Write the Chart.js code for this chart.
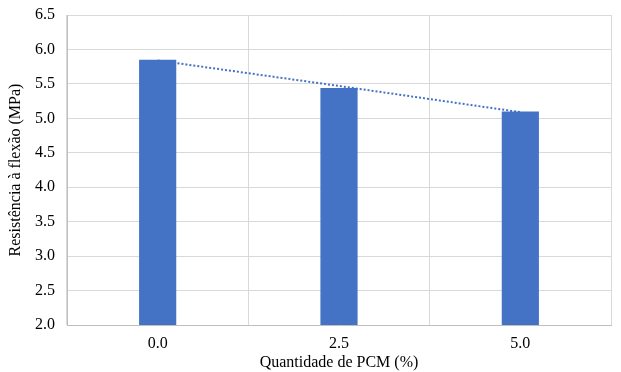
<!DOCTYPE html>
<html lang="pt">
<head>
<meta charset="UTF-8">
<title>Resistência à flexão</title>
<script src="https://cdn.jsdelivr.net/npm/chart.js"></script>
<style>
	body {padding: 0; margin: 0; background: #fff;}
	#wrap {width: 621px; height: 372px;}
</style>
</head>
<body>
<div id="wrap"><canvas id="myChart"></canvas></div>
<script>
var categories = ['0.0', '2.5', '5.0'];
var resistencia = [5.85, 5.44, 5.10];
var tendencia = [5.84, 5.47, 5.09];   // linha de tendência

var serif = "'Liberation Serif', 'Times New Roman', serif";

new Chart(document.getElementById('myChart'), {
	type: 'bar',
	data: {
		labels: categories,
		datasets: [{
			type: 'line',
			data: tendencia,
			borderColor: '#4472C4',
			borderWidth: 2,
			borderDash: [2, 2],
			pointRadius: 0,
			fill: false,
			order: 0
		}, {
			data: resistencia,
			backgroundColor: '#4472C4',
			borderWidth: 0,
			barPercentage: 0.205,
			categoryPercentage: 1,
			order: 1
		}]
	},
	options: {
		responsive: true,
		maintainAspectRatio: false,
		animation: false,
		layout: {padding: {top: 15, right: 10, left: 0, bottom: 0}},
		plugins: {legend: {display: false}, tooltip: {enabled: false}},
		scales: {
			x: {
				grid: {color: '#d9d9d9', lineWidth: 1, drawTicks: false, offset: true},
				border: {color: '#bfbfbf'},
				ticks: {color: '#000', font: {family: serif, size: 16}, padding: 9},
				title: {display: true, text: 'Quantidade de PCM (%)', color: '#000', font: {family: serif, size: 16}, padding: {top: 0, bottom: 0}},
				afterFit: function(s) { s.height = 47; }
			},
			y: {
				min: 2.0,
				max: 6.5,
				grid: {color: '#d9d9d9', lineWidth: 1, drawTicks: false},
				border: {color: '#bfbfbf'},
				ticks: {stepSize: 0.5, color: '#000', font: {family: serif, size: 16}, padding: 12,
					callback: function(v) { return v.toFixed(1); }},
				title: {display: true, text: 'Resistência à flexão (MPa)', color: '#000', font: {family: serif, size: 16}, padding: {top: 6, bottom: 4}},
				afterFit: function(s) { s.width = 67; s.paddingTop = 0; s.paddingBottom = 0; }
			}
		}
	}
});
</script>
</body>
</html>
